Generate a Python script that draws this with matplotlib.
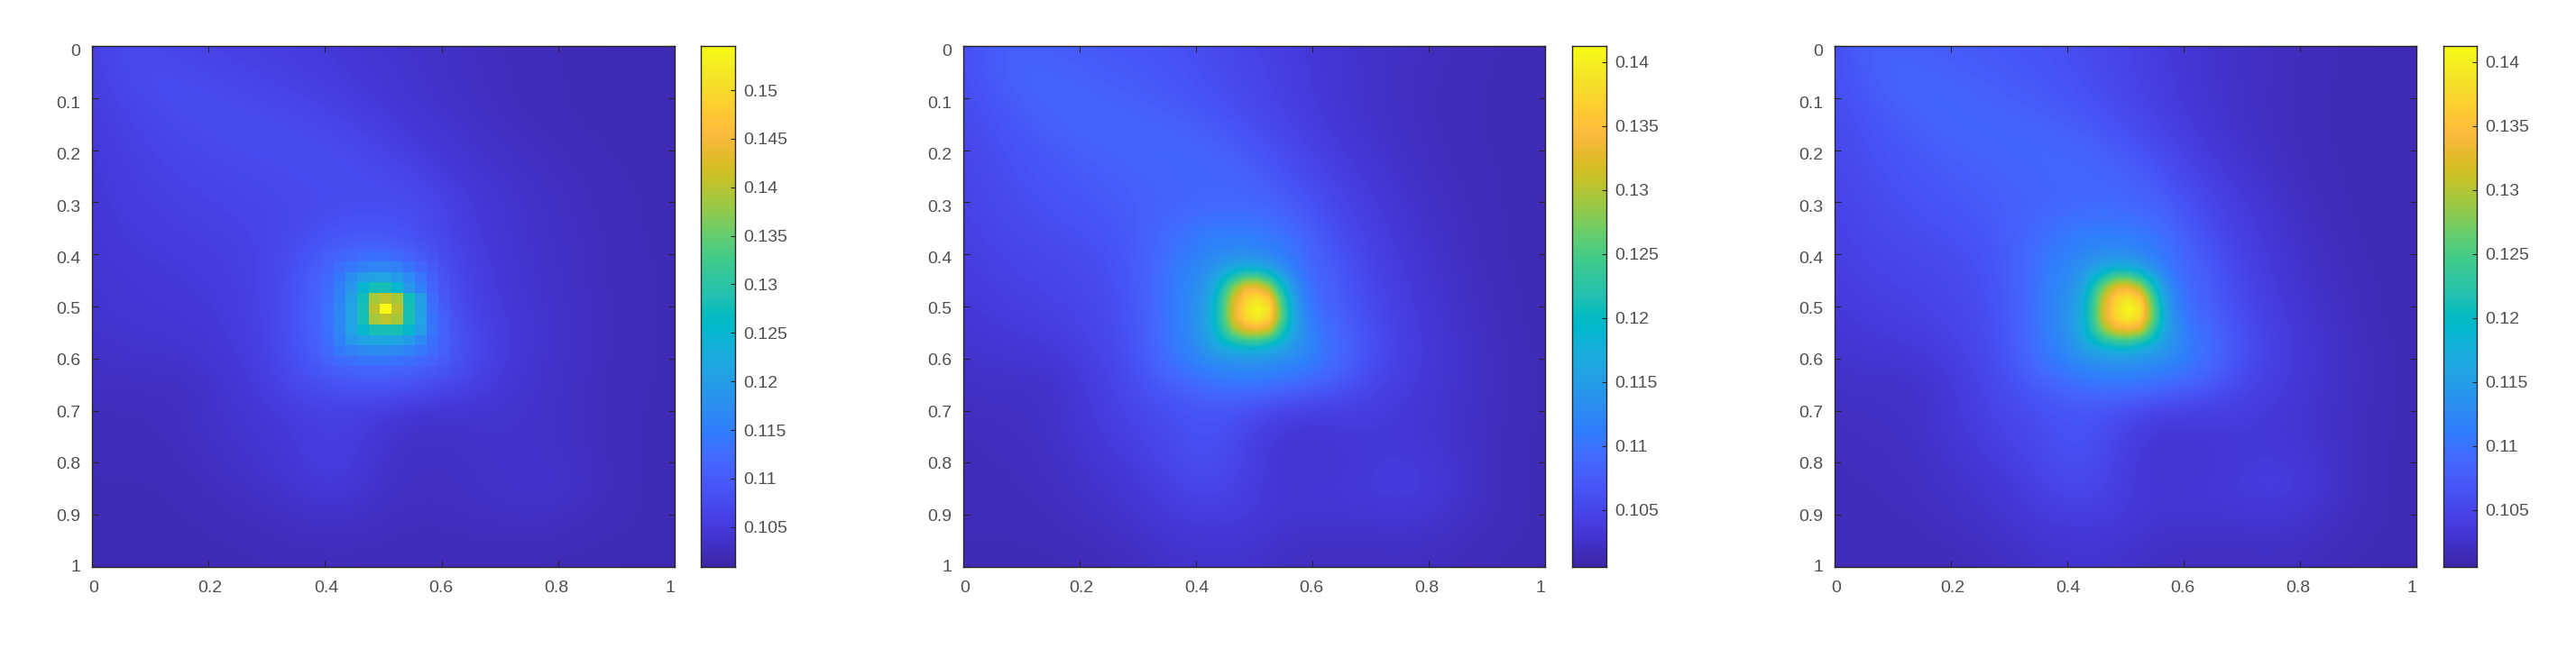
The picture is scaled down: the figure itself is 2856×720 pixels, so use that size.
import numpy as np
import matplotlib
matplotlib.use("Agg")
import matplotlib.pyplot as plt
from matplotlib.colors import LinearSegmentedColormap
from matplotlib.transforms import ScaledTranslation

# coarse field every 0.05 (rows y=0..1, cols x=0..1), values in 1e-3
field_a = [
    [105.6,107.2,107.0,106.5,106.1,105.8,105.5,105.2,104.8,104.4,104.0,103.6,103.2,102.9,102.6,102.4,102.2,102.0,101.9,101.8,101.8],
    [105.6,107.0,107.7,107.3,106.8,106.4,106.0,105.6,105.2,104.7,104.2,103.8,103.3,102.9,102.6,102.4,102.2,102.0,101.9,101.8,101.8],
    [105.3,106.3,107.2,108.0,107.8,107.3,106.8,106.3,105.8,105.2,104.6,104.0,103.5,103.1,102.7,102.4,102.2,102.0,101.9,101.8,101.8],
    [105.0,105.9,106.6,107.2,107.8,108.0,107.8,107.4,106.8,106.0,105.2,104.5,103.9,103.4,102.9,102.6,102.3,102.1,102.0,101.9,101.8],
    [104.8,105.5,106.1,106.6,107.0,107.5,107.8,107.9,107.8,107.2,106.2,105.3,104.5,103.8,103.3,102.9,102.6,102.3,102.1,102.0,101.9],
    [104.6,105.3,105.8,106.2,106.5,106.8,107.1,107.5,107.7,107.7,107.3,106.4,105.2,104.3,103.7,103.2,102.8,102.5,102.2,102.1,102.0],
    [104.5,105.1,105.5,105.8,106.1,106.4,106.7,107.0,107.4,107.7,107.8,107.8,106.4,104.9,104.1,103.5,103.0,102.6,102.3,102.1,102.0],
    [104.3,104.9,105.2,105.5,105.7,106.0,106.4,107.2,108.2,108.8,108.8,108.0,106.5,105.0,104.2,103.6,103.1,102.7,102.4,102.1,102.0],
    [104.2,104.6,104.9,105.1,105.4,105.7,106.4,108.0,110.2,112.0,112.0,110.4,108.0,105.6,104.4,103.7,103.2,102.8,102.4,102.2,102.0],
    [104.0,104.4,104.6,104.8,105.1,105.5,106.4,108.6,111.6,114.5,115.5,112.0,108.6,106.0,104.6,103.8,103.3,102.8,102.4,102.2,102.0],
    [103.8,104.2,104.4,104.5,104.8,105.3,106.3,108.8,112.0,116.0,119.0,114.5,109.4,106.4,104.9,104.0,103.4,102.9,102.5,102.2,102.0],
    [103.6,103.9,104.0,104.2,104.5,105.1,106.2,108.8,112.0,115.8,117.5,114.8,110.4,107.4,105.2,104.2,103.5,102.9,102.5,102.2,102.0],
    [103.2,103.5,103.6,103.7,104.1,104.8,106.0,108.4,110.6,112.6,113.0,112.0,110.0,107.6,105.2,104.0,103.4,102.9,102.4,102.2,102.0],
    [102.8,102.9,102.9,102.9,103.5,104.3,105.4,107.0,108.2,109.2,109.4,108.6,107.4,106.0,104.6,103.8,103.3,102.8,102.4,102.2,102.0],
    [102.5,102.6,102.6,102.8,103.4,104.0,104.6,105.4,105.9,105.9,105.1,104.3,104.0,104.0,103.9,103.6,103.2,102.8,102.4,102.1,102.0],
    [102.3,102.4,102.5,102.7,103.2,103.7,104.2,104.9,105.6,105.3,104.0,103.3,103.3,103.5,103.6,103.5,103.2,102.8,102.4,102.1,102.0],
    [102.2,102.3,102.3,102.5,102.9,103.4,103.9,104.6,105.6,105.0,103.6,103.0,103.0,103.2,103.5,103.6,103.4,102.9,102.4,102.1,102.0],
    [102.1,102.1,102.1,102.3,102.6,103.0,103.4,103.9,104.8,104.3,103.3,102.9,102.9,103.1,103.4,103.6,103.6,103.0,102.4,102.1,102.0],
    [102.0,102.0,102.0,102.1,102.3,102.6,102.8,103.2,103.4,103.2,102.9,102.7,102.7,102.9,103.0,103.2,103.0,102.6,102.3,102.1,102.0],
    [101.9,101.9,101.9,102.0,102.1,102.2,102.4,102.6,102.7,102.7,102.6,102.4,102.4,102.5,102.5,102.5,102.4,102.2,102.1,102.0,102.0],
    [101.8,101.8,101.8,101.9,101.9,102.0,102.1,102.2,102.3,102.3,102.2,102.1,102.1,102.1,102.1,102.1,102.0,102.0,101.9,101.9,101.9],
]

field_b = [
    [105.8,107.6,107.8,107.6,107.3,107.0,106.8,106.4,105.8,105.2,104.6,104.0,103.4,102.9,102.5,102.2,102.0,101.8,101.6,101.4,101.4],
    [105.8,107.4,108.4,108.2,107.8,107.4,107.1,106.8,106.2,105.5,104.8,104.1,103.5,102.9,102.5,102.1,101.9,101.7,101.5,101.4,101.4],
    [105.6,106.8,107.8,108.7,108.6,108.1,107.6,107.2,106.7,105.9,105.1,104.3,103.6,103.0,102.5,102.1,101.9,101.6,101.5,101.4,101.4],
    [105.2,106.2,107.1,107.9,108.6,108.7,108.5,108.1,107.6,106.8,105.7,104.7,103.9,103.2,102.6,102.2,101.9,101.6,101.5,101.4,101.3],
    [105.0,105.8,106.6,107.2,107.8,108.2,108.6,108.7,108.6,108.0,106.8,105.5,104.4,103.6,102.9,102.4,102.0,101.7,101.5,101.4,101.3],
    [104.8,105.5,106.2,106.8,107.2,107.6,108.1,108.5,108.7,108.6,108.0,106.6,105.2,104.1,103.3,102.6,102.1,101.8,101.6,101.4,101.3],
    [104.5,105.2,105.7,106.3,106.8,107.2,107.7,108.2,108.6,108.8,108.7,107.9,106.2,104.8,103.8,102.9,102.3,101.9,101.6,101.4,101.3],
    [104.2,104.9,105.4,105.8,106.2,106.7,107.6,109.0,110.2,110.8,110.5,109.5,107.4,105.2,104.2,103.2,102.5,102.0,101.7,101.4,101.3],
    [104.0,104.5,104.9,105.2,105.6,106.2,107.6,109.6,112.0,113.2,113.0,111.5,109.0,106.2,104.6,103.5,102.7,102.1,101.7,101.4,101.3],
    [103.7,104.2,104.5,104.8,105.2,105.8,107.4,110.0,113.2,117.0,118.0,113.2,109.6,107.0,105.0,103.8,102.9,102.3,101.8,101.5,101.3],
    [103.4,103.8,104.1,104.4,104.8,105.5,107.2,110.0,113.6,120.0,124.0,116.0,110.0,107.4,105.4,104.1,103.1,102.4,101.9,101.5,101.3],
    [103.0,103.4,103.6,103.9,104.4,105.2,107.0,110.0,113.6,119.0,121.0,116.0,111.6,108.6,106.0,104.4,103.3,102.6,102.0,101.6,101.3],
    [102.6,102.9,103.0,103.3,103.9,104.8,106.6,109.8,112.0,113.4,113.6,113.0,111.5,109.0,106.0,104.4,103.4,102.7,102.1,101.7,101.4],
    [102.2,102.4,102.3,102.4,103.4,104.4,105.8,107.5,109.0,110.4,110.5,109.6,108.4,107.0,105.0,104.0,103.2,102.6,102.1,101.7,101.4],
    [102.0,102.1,102.2,102.4,103.2,104.1,105.0,105.9,106.6,106.6,105.6,104.4,104.0,104.0,103.9,103.5,103.0,102.5,102.0,101.7,101.4],
    [101.8,101.9,102.0,102.3,103.0,103.7,104.5,105.3,106.3,106.0,104.2,103.2,103.1,103.3,103.5,103.4,103.0,102.5,102.0,101.6,101.4],
    [101.7,101.8,101.9,102.1,102.6,103.2,103.9,104.8,106.0,105.4,103.9,102.9,102.8,103.1,103.5,103.7,103.4,102.6,102.0,101.6,101.4],
    [101.6,101.7,101.8,102.0,102.3,102.8,103.3,104.0,105.0,104.7,103.7,103.2,103.2,103.4,103.7,103.9,103.7,102.8,102.0,101.6,101.4],
    [101.6,101.6,101.7,101.8,102.1,102.4,102.9,103.5,103.9,103.9,103.6,103.0,102.9,103.0,103.1,103.2,102.9,102.3,101.9,101.6,101.4],
    [101.5,101.5,101.5,101.6,101.8,102.0,102.3,102.8,103.0,103.1,102.9,102.5,102.3,102.3,102.3,102.4,102.2,102.0,101.7,101.5,101.4],
    [101.4,101.4,101.4,101.4,101.5,101.7,102.0,102.4,102.6,102.7,102.5,102.1,101.9,101.9,101.9,102.0,101.9,101.7,101.5,101.4,101.4],
]

field_c = [
    [105.9,107.7,107.9,107.7,107.4,107.1,106.9,106.5,105.9,105.3,104.6,103.9,103.2,102.7,102.3,102.0,101.8,101.6,101.4,101.3,101.3],
    [105.9,107.5,108.5,108.3,107.9,107.5,107.2,106.9,106.3,105.6,104.8,104.0,103.3,102.7,102.3,102.0,101.8,101.5,101.4,101.3,101.3],
    [105.7,106.9,107.9,108.8,108.7,108.2,107.7,107.3,106.8,106.0,105.1,104.2,103.4,102.8,102.3,102.0,101.7,101.5,101.4,101.3,101.3],
    [105.3,106.3,107.2,108.0,108.7,108.8,108.6,108.2,107.7,106.9,105.8,104.7,103.8,103.0,102.4,102.0,101.7,101.5,101.4,101.3,101.2],
    [105.1,105.9,106.7,107.3,107.9,108.3,108.7,108.8,108.7,108.2,107.0,105.6,104.4,103.4,102.7,102.2,101.8,101.5,101.4,101.3,101.2],
    [104.9,105.6,106.3,106.9,107.3,107.7,108.2,108.6,108.8,108.8,108.2,106.8,105.3,104.0,103.1,102.4,101.9,101.6,101.4,101.3,101.2],
    [104.6,105.3,105.8,106.4,106.9,107.3,107.8,108.3,108.7,108.9,108.9,108.2,106.4,104.8,103.7,102.8,102.1,101.7,101.4,101.3,101.2],
    [104.3,105.0,105.5,105.9,106.3,106.8,107.7,109.1,110.3,110.9,110.6,109.7,107.6,105.3,104.1,103.1,102.3,101.8,101.5,101.3,101.2],
    [104.1,104.6,105.0,105.3,105.7,106.3,107.7,109.7,112.1,113.3,113.2,111.7,109.2,106.3,104.6,103.4,102.5,102.0,101.6,101.3,101.2],
    [103.8,104.3,104.6,104.9,105.3,105.9,107.5,110.1,113.3,117.1,118.2,113.4,109.8,107.2,105.0,103.7,102.7,102.1,101.7,101.4,101.2],
    [103.5,103.9,104.2,104.5,104.9,105.6,107.3,110.1,113.7,120.1,124.2,116.2,110.2,107.6,105.5,104.0,103.0,102.3,101.8,101.4,101.2],
    [103.1,103.5,103.7,104.0,104.5,105.3,107.1,110.1,113.7,119.1,121.2,116.2,111.8,108.8,106.1,104.3,103.2,102.5,101.9,101.5,101.2],
    [102.7,103.0,103.1,103.4,104.0,104.9,106.7,109.9,112.1,113.5,113.8,113.2,111.7,109.2,106.2,104.4,103.4,102.6,102.0,101.6,101.3],
    [102.3,102.5,102.4,102.5,103.5,104.5,105.9,107.6,109.1,110.5,110.7,109.8,108.6,107.2,105.1,104.0,103.2,102.5,102.0,101.6,101.3],
    [102.1,102.2,102.3,102.5,103.3,104.2,105.1,106.0,106.7,106.7,105.7,104.5,104.1,104.1,103.9,103.5,103.0,102.4,101.9,101.6,101.3],
    [101.9,102.0,102.1,102.4,103.1,103.8,104.6,105.4,106.4,106.1,104.3,103.2,103.1,103.3,103.5,103.4,103.0,102.4,101.9,101.5,101.3],
    [101.8,101.9,102.0,102.2,102.7,103.3,104.0,104.9,106.1,105.5,103.9,102.9,102.8,103.1,103.5,103.7,103.4,102.6,101.9,101.5,101.3],
    [101.7,101.8,101.9,102.1,102.4,102.9,103.4,104.1,105.1,104.8,103.7,103.2,103.2,103.4,103.7,104.0,103.7,102.7,101.9,101.5,101.3],
    [101.7,101.7,101.8,101.9,102.2,102.5,103.0,103.6,104.0,104.0,103.6,103.0,102.9,103.0,103.1,103.2,102.9,102.2,101.8,101.5,101.3],
    [101.6,101.6,101.6,101.7,101.9,102.1,102.4,102.9,103.1,103.2,102.9,102.5,102.3,102.3,102.3,102.4,102.2,101.9,101.6,101.4,101.3],
    [101.5,101.5,101.5,101.5,101.6,101.8,102.1,102.5,102.7,102.8,102.5,102.1,101.9,101.9,101.9,102.0,101.9,101.6,101.4,101.3,101.3],
]

# fine cells of 0.02 round the peak, centres 0.385..0.625
peak_a = [
    [109.2,110.0,110.6,111.0,111.4,111.6,111.6,111.2,110.4,109.4,108.2,107.0,106.2],
    [109.8,110.8,111.8,112.8,113.6,114.0,114.0,113.2,112.0,110.6,109.2,107.8,106.6],
    [110.4,111.6,113.2,115.0,116.4,117.2,117.2,116.2,114.4,112.2,110.2,108.4,107.0],
    [111.0,112.4,114.6,117.4,119.8,121.0,121.0,119.6,116.8,113.8,111.2,109.0,107.4],
    [111.4,113.0,115.8,119.0,125.0,127.8,128.0,125.0,119.0,115.2,112.0,109.6,107.8],
    [111.6,113.6,116.6,120.4,127.6,139.0,140.5,139.0,127.6,120.0,113.4,110.2,108.2],
    [111.8,114.0,117.4,121.0,128.0,140.5,154.5,140.5,128.0,120.4,114.0,110.8,108.6],
    [111.8,114.2,117.6,121.0,128.0,139.0,140.5,139.0,128.0,120.6,114.6,111.4,109.0],
    [111.8,114.2,117.4,120.6,125.2,128.0,128.2,128.0,125.2,119.8,114.8,111.8,109.4],
    [111.6,114.0,116.6,119.0,120.8,121.6,121.8,121.2,119.4,116.6,113.8,111.6,109.6],
    [111.2,113.2,115.2,116.8,117.8,118.2,118.2,117.8,116.8,115.0,113.0,111.4,109.6],
    [110.8,112.2,113.4,114.2,114.8,115.0,115.0,114.6,114.0,113.0,112.0,110.8,109.4],
    [110.0,111.0,111.6,112.0,112.2,112.2,112.2,112.0,111.6,111.2,110.6,109.8,108.8],
]

peak_b = [
    [109.6,110.4,111.0,111.4,111.8,112.0,111.8,111.2,110.4,109.4,108.4,107.4,106.6],
    [110.2,111.2,112.2,113.0,113.8,114.2,114.0,113.0,111.6,110.4,109.0,107.8,107.0],
    [110.8,112.0,113.4,115.2,117.2,118.4,118.2,116.6,113.8,111.4,109.6,108.2,107.2],
    [111.2,112.6,114.8,118.2,122.4,125.4,125.4,122.4,117.4,113.2,110.4,108.6,107.4],
    [111.6,113.2,116.2,121.4,128.0,133.0,133.4,129.6,121.6,115.0,111.2,109.0,107.6],
    [111.8,113.6,117.2,123.4,131.4,136.8,138.4,135.6,125.2,116.6,112.0,109.4,107.8],
    [112.0,114.0,117.6,124.0,132.6,138.0,141.0,138.4,127.0,117.6,112.4,109.8,108.0],
    [112.0,114.2,117.8,123.8,132.0,137.2,139.2,136.8,126.6,118.0,113.0,110.4,108.4],
    [112.0,114.2,117.4,122.4,128.6,132.4,133.0,131.2,123.4,117.0,113.6,111.0,108.8],
    [111.8,114.0,116.4,119.4,122.6,124.4,124.6,123.0,119.4,115.4,113.4,111.4,109.2],
    [111.4,113.2,114.8,116.2,117.6,118.2,118.2,117.2,115.8,114.4,112.8,111.4,109.4],
    [110.8,112.2,113.2,113.8,114.2,114.4,114.2,114.0,113.4,112.8,111.8,110.8,109.2],
    [110.2,111.2,111.8,112.2,112.4,112.4,112.4,112.2,112.0,111.6,110.8,110.0,108.8],
]

peak_c = [
    [109.7,110.5,111.1,111.5,111.9,112.1,111.9,111.3,110.5,109.5,108.6,107.6,106.8],
    [110.3,111.3,112.3,113.1,113.9,114.3,114.1,113.1,111.7,110.5,109.2,108.0,107.2],
    [110.9,112.1,113.5,115.3,117.4,118.6,118.4,116.8,114.0,111.6,109.8,108.4,107.4],
    [111.3,112.7,114.9,118.4,122.6,125.6,125.6,122.6,117.8,113.4,110.6,108.8,107.6],
    [111.7,113.3,116.4,121.6,128.2,133.2,133.6,130.0,122.2,115.2,111.4,109.2,107.8],
    [111.9,113.7,117.4,123.6,131.6,137.0,138.6,136.0,125.8,116.8,112.2,109.6,108.0],
    [112.1,114.1,117.8,124.2,132.8,138.2,141.0,138.6,127.6,117.8,112.6,110.0,108.2],
    [112.1,114.3,118.0,124.0,132.2,137.4,139.4,137.0,127.2,118.2,113.2,110.6,108.6],
    [112.1,114.3,117.6,122.6,128.8,132.6,133.2,131.6,124.0,117.2,113.8,111.2,109.0],
    [111.9,114.1,116.6,119.6,122.8,124.6,124.8,123.2,119.8,115.6,113.6,111.6,109.4],
    [111.5,113.3,115.0,116.4,117.8,118.4,118.4,117.4,116.0,114.6,113.0,111.6,109.6],
    [110.9,112.3,113.4,114.0,114.4,114.6,114.4,114.2,113.6,113.0,112.0,111.0,109.4],
    [110.3,111.3,111.9,112.3,112.5,112.5,112.5,112.3,112.1,111.8,111.0,110.2,109.0],
]

fields = [field_a, field_b, field_c]
peaks = [peak_a, peak_b, peak_c]
peak_interp = ['nearest', 'bilinear', 'bilinear']
color_limits = [(0.1009, 0.15455), (0.10056, 0.14126), (0.10056, 0.14126)]
cbar_ticks = [
    [0.105, 0.11, 0.115, 0.12, 0.125, 0.13, 0.135, 0.14, 0.145, 0.15],
    [0.105, 0.11, 0.115, 0.12, 0.125, 0.13, 0.135, 0.14],
    [0.105, 0.11, 0.115, 0.12, 0.125, 0.13, 0.135, 0.14],
]
x_ticks = [0, 0.2, 0.4, 0.6, 0.8, 1]
y_ticks = [0, 0.1, 0.2, 0.3, 0.4, 0.5, 0.6, 0.7, 0.8, 0.9, 1]

# left, right, cbar left, cbar right in pixels
ax_pixels = [(102, 748, 777, 815), (1068, 1713, 1743, 1781), (2034, 2679, 2709, 2746)]
top_px, bottom_px = 51, 629
W, H = 2856, 720

# labels sit a little off their ticks in the original, in pixels
x_label_shift = [2, 2, 1, -1, -2, -5]
y_label_shift = [-5, -5, -4, -4, -3.5, -2, -1, -0.5, 0, 0, 1]

parula_rows = [
    (.2422,.1504,.6603),(.2504,.1650,.7076),(.2578,.1818,.7511),(.2647,.1978,.7952),
    (.2706,.2147,.8364),(.2751,.2342,.8710),(.2783,.2559,.8991),(.2803,.2782,.9221),
    (.2813,.3006,.9414),(.2810,.3228,.9579),(.2795,.3447,.9717),(.2760,.3667,.9829),
    (.2699,.3892,.9906),(.2602,.4123,.9952),(.2440,.4358,.9988),(.2206,.4603,.9973),
    (.1963,.4847,.9892),(.1834,.5074,.9798),(.1786,.5289,.9682),(.1764,.5499,.9520),
    (.1687,.5703,.9359),(.1540,.5902,.9218),(.1460,.6091,.9079),(.1380,.6276,.8973),
    (.1248,.6459,.8883),(.1113,.6635,.8763),(.0952,.6798,.8598),(.0689,.6948,.8394),
    (.0297,.7082,.8163),(.0036,.7197,.7917),(.0067,.7312,.7660),(.0433,.7411,.7394),
    (.0964,.7500,.7120),(.1408,.7584,.6842),(.1717,.7670,.6554),(.1938,.7758,.6251),
    (.2161,.7843,.5923),(.2470,.7918,.5567),(.2906,.7973,.5188),(.3406,.8008,.4789),
    (.3909,.8029,.4354),(.4456,.8024,.3909),(.5044,.7993,.3480),(.5616,.7942,.3045),
    (.6174,.7876,.2612),(.6720,.7793,.2227),(.7242,.7698,.1910),(.7738,.7598,.1646),
    (.8203,.7498,.1535),(.8634,.7406,.1596),(.9035,.7330,.1774),(.9393,.7288,.2100),
    (.9728,.7298,.2394),(.9956,.7434,.2371),(.9970,.7659,.2199),(.9952,.7893,.2028),
    (.9892,.8136,.1885),(.9786,.8386,.1766),(.9676,.8639,.1643),(.9610,.8890,.1537),
    (.9597,.9135,.1423),(.9628,.9373,.1265),(.9691,.9606,.1064),(.9769,.9839,.0805),
]
parula = LinearSegmentedColormap.from_list("parula", parula_rows, N=256)

plt.rcParams['font.family'] = ['Liberation Sans', 'DejaVu Sans']
text_color = '#505050'
line_color = '#262626'


def style_axis(ax):
    for s in ax.spines.values():
        s.set_color(line_color)
        s.set_linewidth(1.0)


def fmt(v):
    return f"{v:g}"


# outer rings of the fine cells fade into the coarse field
idx = np.arange(13)
edge = np.minimum(idx, idx[::-1])
peak_alpha = np.clip((np.minimum.outer(edge, edge) + 1) / 4, 0, 1)

fig = plt.figure(figsize=(W / 100, H / 100), dpi=100)

for i in range(3):
    left, right, cleft, cright = ax_pixels[i]
    ax = fig.add_axes([left / W, 1 - bottom_px / H, (right - left) / W, (bottom_px - top_px) / H])
    vmin, vmax = color_limits[i]
    coarse = np.array(fields[i]) / 1000
    fine = np.array(peaks[i]) / 1000
    ax.imshow(coarse, cmap=parula, vmin=vmin, vmax=vmax, interpolation='bicubic',
              extent=[-0.025, 1.025, 1.025, -0.025], aspect='auto')
    ax.imshow(fine, cmap=parula, vmin=vmin, vmax=vmax, interpolation=peak_interp[i], alpha=peak_alpha,
              extent=[0.375, 0.635, 0.635, 0.375], aspect='auto')
    ax.set_xlim(0, 1)
    ax.set_ylim(1, 0)
    ax.set_xticks(x_ticks)
    ax.set_xticklabels([fmt(v) for v in x_ticks])
    ax.set_yticks(y_ticks)
    ax.set_yticklabels([fmt(v) for v in y_ticks])
    ax.tick_params(direction='in', length=5, width=0.8, color=line_color, top=True, right=True,
                   labelsize=14, labelcolor=text_color)
    ax.tick_params(axis='x', pad=11)
    ax.tick_params(axis='y', pad=9)
    for lab, dx in zip(ax.get_xticklabels(), x_label_shift):
        lab.set_transform(lab.get_transform() + ScaledTranslation(dx / 100, 0, fig.dpi_scale_trans))
    for lab, dy in zip(ax.get_yticklabels(), y_label_shift):
        lab.set_transform(lab.get_transform() + ScaledTranslation(0, dy / 100, fig.dpi_scale_trans))
    style_axis(ax)

    cax = fig.add_axes([cleft / W, 1 - bottom_px / H, (cright - cleft) / W, (bottom_px - top_px) / H])
    grad = np.linspace(vmin, vmax, 256).reshape(-1, 1)
    cax.imshow(grad, cmap=parula, vmin=vmin, vmax=vmax, aspect='auto', origin='lower',
               extent=[0, 1, vmin, vmax])
    cax.set_xticks([])
    cax.yaxis.tick_right()
    cax.set_yticks(cbar_ticks[i])
    cax.set_yticklabels([fmt(v) for v in cbar_ticks[i]])
    cax.tick_params(direction='in', length=3.5, width=0.8, color=line_color,
                    labelsize=14, labelcolor=text_color, pad=7)
    style_axis(cax)

fig.savefig('out.png', dpi=100, facecolor='white')
plt.close(fig)
